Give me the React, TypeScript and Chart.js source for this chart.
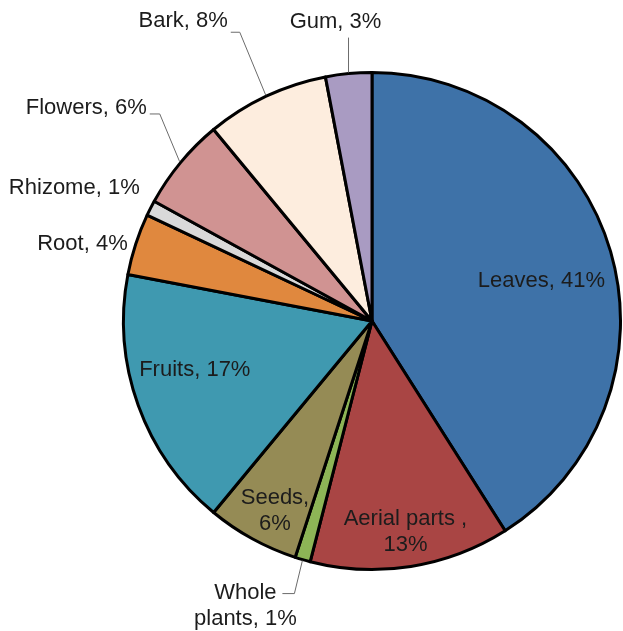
import React, { useEffect, useRef } from "react";
import { Chart, registerables } from "chart.js";

Chart.register(...registerables);

// ---- data ----
const categories = [
  "Leaves",
  "Aerial parts ",
  "Whole plants",
  "Seeds",
  "Fruits",
  "Root",
  "Rhizome",
  "Flowers",
  "Bark",
  "Gum",
];
const values = [41, 13, 1, 6, 17, 4, 1, 6, 8, 3];
const sliceColors = [
  "#3E72A8",
  "#A94544",
  "#8DB556",
  "#958B55",
  "#3F99B0",
  "#E0883E",
  "#D9D9D9",
  "#D09392",
  "#FDEDDE",
  "#A99BC2",
];

// ---- label layout (relative to each arc) ----
type Layout = {
  kind: "in" | "out";
  rf?: number;
  da?: number;
  split?: "comma" | "word";
  elbow?: [number, number];
  tail?: number;
  text?: [number, number];
  align?: CanvasTextAlign;
};
const labelLayout: Layout[] = [
  { kind: "in", rf: 0.7, da: 3 },
  { kind: "in", rf: 0.86, da: 0, split: "comma" },
  { kind: "out", elbow: [-8, 33], tail: -12, text: [-37, 12], align: "center", split: "word" },
  { kind: "in", rf: 0.86, da: -1.8, split: "comma" },
  { kind: "in", rf: 0.74, da: 4.3 },
  { kind: "out", text: [-7, 0], align: "right" },
  { kind: "out", text: [-10, -20], align: "right" },
  { kind: "out", elbow: [-20, -48], tail: -10, text: [-3, -6], align: "right" },
  { kind: "out", elbow: [-26, -63], tail: -9, text: [-3, -11], align: "right" },
  { kind: "out", elbow: [0, -35], tail: 0, text: [-13, -16], align: "center" },
];

function labelLines(i: number): string[] {
  const name = categories[i];
  const pct = `${values[i]}%`;
  const split = labelLayout[i].split;
  if (split === "comma") return [`${name},`, pct];
  if (split === "word") {
    const k = name.indexOf(" ");
    return [name.slice(0, k), `${name.slice(k + 1)}, ${pct}`];
  }
  return [`${name}, ${pct}`];
}

const labelPlugin = {
  id: "pieLabels",
  afterDatasetsDraw(chart: any) {
    const ctx = chart.ctx as CanvasRenderingContext2D;
    const meta = chart.getDatasetMeta(0);
    const lh = 26;
    ctx.save();
    ctx.font = "22px 'Liberation Sans', Arial, sans-serif";
    ctx.fillStyle = "#1c1c1c";
    ctx.textBaseline = "middle";
    meta.data.forEach((arc: any, i: number) => {
      const { x, y, startAngle, endAngle, outerRadius } = arc.getProps(
        ["x", "y", "startAngle", "endAngle", "outerRadius"],
        true
      );
      const L = labelLayout[i];
      const lines = labelLines(i);
      const mid = (startAngle + endAngle) / 2;
      let ax: number, ay: number;
      let align: CanvasTextAlign = "center";
      if (L.kind === "in") {
        const a = mid + ((L.da || 0) * Math.PI) / 180;
        const r = outerRadius * (L.rf || 0.7);
        ax = x + Math.cos(a) * r;
        ay = y + Math.sin(a) * r;
      } else {
        const ex = x + Math.cos(mid) * (outerRadius + 1);
        const ey = y + Math.sin(mid) * (outerRadius + 1);
        let tx = ex;
        let ty = ey;
        if (L.elbow) {
          const bx = ex + L.elbow[0];
          const by = ey + L.elbow[1];
          tx = bx + (L.tail || 0);
          ty = by;
          ctx.save();
          ctx.strokeStyle = "#6b6b6b";
          ctx.lineWidth = 1;
          ctx.beginPath();
          ctx.moveTo(ex, ey);
          ctx.lineTo(bx, by);
          ctx.lineTo(tx, ty);
          ctx.stroke();
          ctx.restore();
        }
        ax = tx + (L.text ? L.text[0] : 0);
        ay = ty + (L.text ? L.text[1] : 0);
        align = L.align || "center";
      }
      ctx.textAlign = align;
      const y0 = ay - ((lines.length - 1) * lh) / 2;
      lines.forEach((t, k) => ctx.fillText(t, ax, y0 + k * lh));
    });
    ctx.restore();
  },
};

export default function App() {
  const ref = useRef<HTMLCanvasElement | null>(null);
  useEffect(() => {
    document.body.style.margin = "0";
    const canvas = ref.current;
    if (!canvas) return;
    const chart = new Chart(canvas, {
      type: "pie",
      data: {
        labels: categories,
        datasets: [
          {
            data: values,
            backgroundColor: sliceColors,
            borderColor: "#000000",
            borderWidth: 3,
            borderJoinStyle: "round",
          } as any,
        ],
      },
      options: {
        responsive: false,
        animation: false,
        layout: { padding: { left: 122, right: 1, top: 71, bottom: 60 } },
        plugins: {
          legend: { display: false },
          tooltip: { enabled: false },
        },
      },
      plugins: [labelPlugin],
    });
    return () => chart.destroy();
  }, []);
  return (
    <div style={{ width: 623, height: 631, background: "#ffffff" }}>
      <canvas ref={ref} width={623} height={631} style={{ display: "block" }} />
    </div>
  );
}
